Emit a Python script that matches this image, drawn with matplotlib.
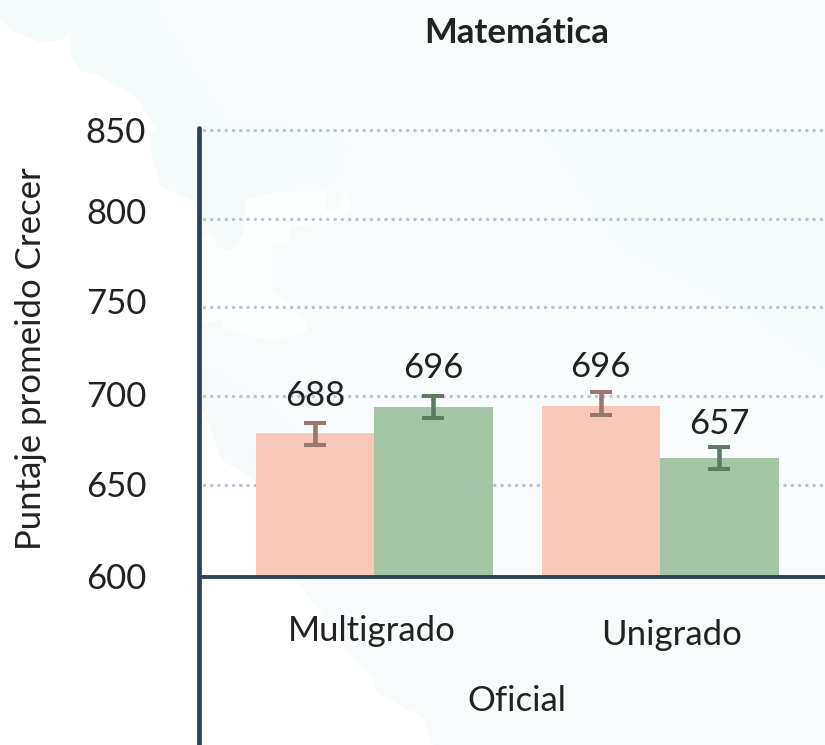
import matplotlib
matplotlib.use("Agg")
import matplotlib.pyplot as plt
from matplotlib.patches import Polygon

plt.rcParams['font.family'] = ['Lato', 'Noto Sans', 'DejaVu Sans']

# ---- data ----
groups = ["Multigrado", "Unigrado"]
parent_label = "Oficial"
title = "Matemática"
ylabel = "Puntaje promeido Crecer"
tick_labels = ["600", "650", "700", "750", "800", "850"]
grid_values = [650, 700, 750, 800, 850]
salmon_values = [679.2, 694.4]
green_values = [693.9, 665.1]
salmon_low = [672.4, 689.4]
salmon_high = [685.0, 702.5]
green_low = [687.7, 659.0]
green_high = [700.0, 671.5]
salmon_text = ["688", "696"]
green_text = ["696", "657"]

# ---- layout helpers ----
W, H = 825, 745
PX_PER_UNIT_Y = 1.774
Y850_PX = 130.0
def y_val(px):
    return 850 - (px - Y850_PX) / PX_PER_UNIT_Y
BAR_PX = 118.5
CENTERS_PX = [374.0, 660.0]
def x_val(px):
    return (px - CENTERS_PX[0]) / BAR_PX
centers = [x_val(p) for p in CENTERS_PX]
floor = y_val(576.5)
tick_label_px = [576, 484, 394, 301, 211, 130]
salmon_label_px = [396, 367]
green_label_px = [368, 424]

AX_L, AX_TOP, AX_BOT = 199.0, 128.0, 745.0

fig = plt.figure(figsize=(W / 100, H / 100), dpi=100, facecolor="white")

# ---- pale map backdrop ----
bg = fig.add_axes([0, 0, 1, 1], zorder=0)
bg.set_xlim(0, W); bg.set_ylim(H, 0); bg.axis("off")
outline = [(0, 20), (15, 32), (40, 42), (60, 40), (70, 33), (72, 55), (80, 70), (100, 76), (125, 90),
           (142, 102), (145, 112), (158, 127), (150, 135), (153, 160), (162, 187), (193, 200),
           (203, 240), (199, 403), (208, 420), (222, 460), (255, 480), (295, 580), (317, 607),
           (348, 653), (373, 677), (377, 693), (423, 717), (433, 745), (825, 745), (825, 0), (0, 0)]
bg.add_patch(Polygon(outline, closed=True, fc="#f7fbfc", ec="none"))
# inner white pocket of the backdrop
bg.add_patch(Polygon([(199, 235), (213, 232), (218, 248), (232, 250), (243, 235), (245, 200), (273, 192),
                      (307, 192), (327, 190), (325, 212), (338, 207), (347, 187), (352, 212),
                      (333, 223), (290, 227), (290, 242), (272, 245), (272, 290), (307, 320),
                      (307, 333), (270, 340), (225, 330), (220, 320), (199, 325)],
                     closed=True, fc="#fdfefe", ec="none"))
# slightly deeper tints
bg.add_patch(Polygon([(0, 20), (15, 32), (40, 42), (60, 40), (70, 33), (72, 55), (80, 70), (100, 76), (125, 90),
                      (142, 102), (145, 112), (158, 127), (150, 135), (153, 160), (162, 187), (193, 200),
                      (210, 230), (218, 248), (232, 250), (243, 235), (245, 200), (273, 192), (340, 180),
                      (350, 140), (300, 125), (230, 120), (195, 70), (155, 0), (0, 0)],
                     closed=True, fc="#f5fafa", ec="none"))
bg.add_patch(Polygon([(540, 130), (825, 130), (825, 370), (740, 310), (620, 250)],
                     closed=True, fc="#f5fbfa", ec="none"))
bg.add_patch(Polygon([(199, 370), (213, 367), (270, 400), (340, 470), (350, 576), (295, 580), (255, 480),
                      (222, 460), (208, 420), (199, 403)],
                     closed=True, fc="#f6fafb", ec="none"))

# ---- main axes ----
ax = fig.add_axes([AX_L / W, 1 - AX_BOT / H, (W - AX_L) / W, (AX_BOT - AX_TOP) / H], zorder=1)
ax.patch.set_alpha(0)
ax.set_xlim(x_val(AX_L), x_val(W))
ax.set_ylim(y_val(AX_BOT), y_val(AX_TOP))
for s in ["top", "right", "bottom"]:
    ax.spines[s].set_visible(False)
ax.spines["left"].set_color("#2c4258")
ax.spines["left"].set_linewidth(3.4)
ax.spines["left"].set_capstyle("round")

ax.set_yticks([y_val(p) for p in tick_label_px])
ax.set_yticklabels(tick_labels, fontsize=25, color="#222222")
ax.tick_params(axis="y", length=0, pad=38)
ax.set_xticks([])

# dotted gridlines, starting just right of the axis
for v in grid_values:
    ax.plot([x_val(204), x_val(W)], [v, v], color="#bcc3d8", lw=2.5,
            ls=(0, (0.01, 2.08)), dash_capstyle="round", zorder=1, clip_on=False)

# bars
offs = 0.5
ax.bar([c - offs for c in centers], [v - floor for v in salmon_values], bottom=floor, width=1.0,
       color="#fac8b9", zorder=2)
ax.bar([c + offs for c in centers], [v - floor for v in green_values], bottom=floor, width=1.0,
       color="#a5c6a6", zorder=2)
ax.axhline(floor, color="#2c4258", lw=2.8, zorder=3)

# error bars
def whisk(xs, lows, highs, col):
    for x, lo, hi in zip(xs, lows, highs):
        ax.plot([x, x], [lo, hi], color=col, lw=3.3, solid_capstyle="butt", zorder=4)
        for v in (lo, hi):
            ax.plot([x - 11 / BAR_PX, x + 11 / BAR_PX], [v, v], color=col, lw=2.9,
                    solid_capstyle="butt", zorder=4)
whisk([c - offs for c in centers], salmon_low, salmon_high, "#9a776f")
whisk([c + offs for c in centers], green_low, green_high, "#5f7a62")

# value labels
lab_txt = "#222222"
for c, py, t in zip(centers, salmon_label_px, salmon_text):
    ax.text(c - offs, y_val(py), t, ha="center", va="center", fontsize=25, color=lab_txt, zorder=5)
for c, py, t in zip(centers, green_label_px, green_text):
    ax.text(c + offs, y_val(py), t, ha="center", va="center", fontsize=25, color=lab_txt, zorder=5)

# text in pixel places
def ptext(x, y, s, **kw):
    fig.text(x / W, 1 - y / H, s, ha="center", va="center", color="#222222", zorder=6, **kw)
ptext(372, 631, groups[0], fontsize=25)
ptext(672, 635, groups[1], fontsize=25)
ptext(517, 701, parent_label, fontsize=25)
ptext(517, 33, title, fontsize=25, fontweight="bold")
ptext(31, 359, ylabel, fontsize=25, rotation=90)

fig.savefig("out.png", dpi=100, facecolor="white")
